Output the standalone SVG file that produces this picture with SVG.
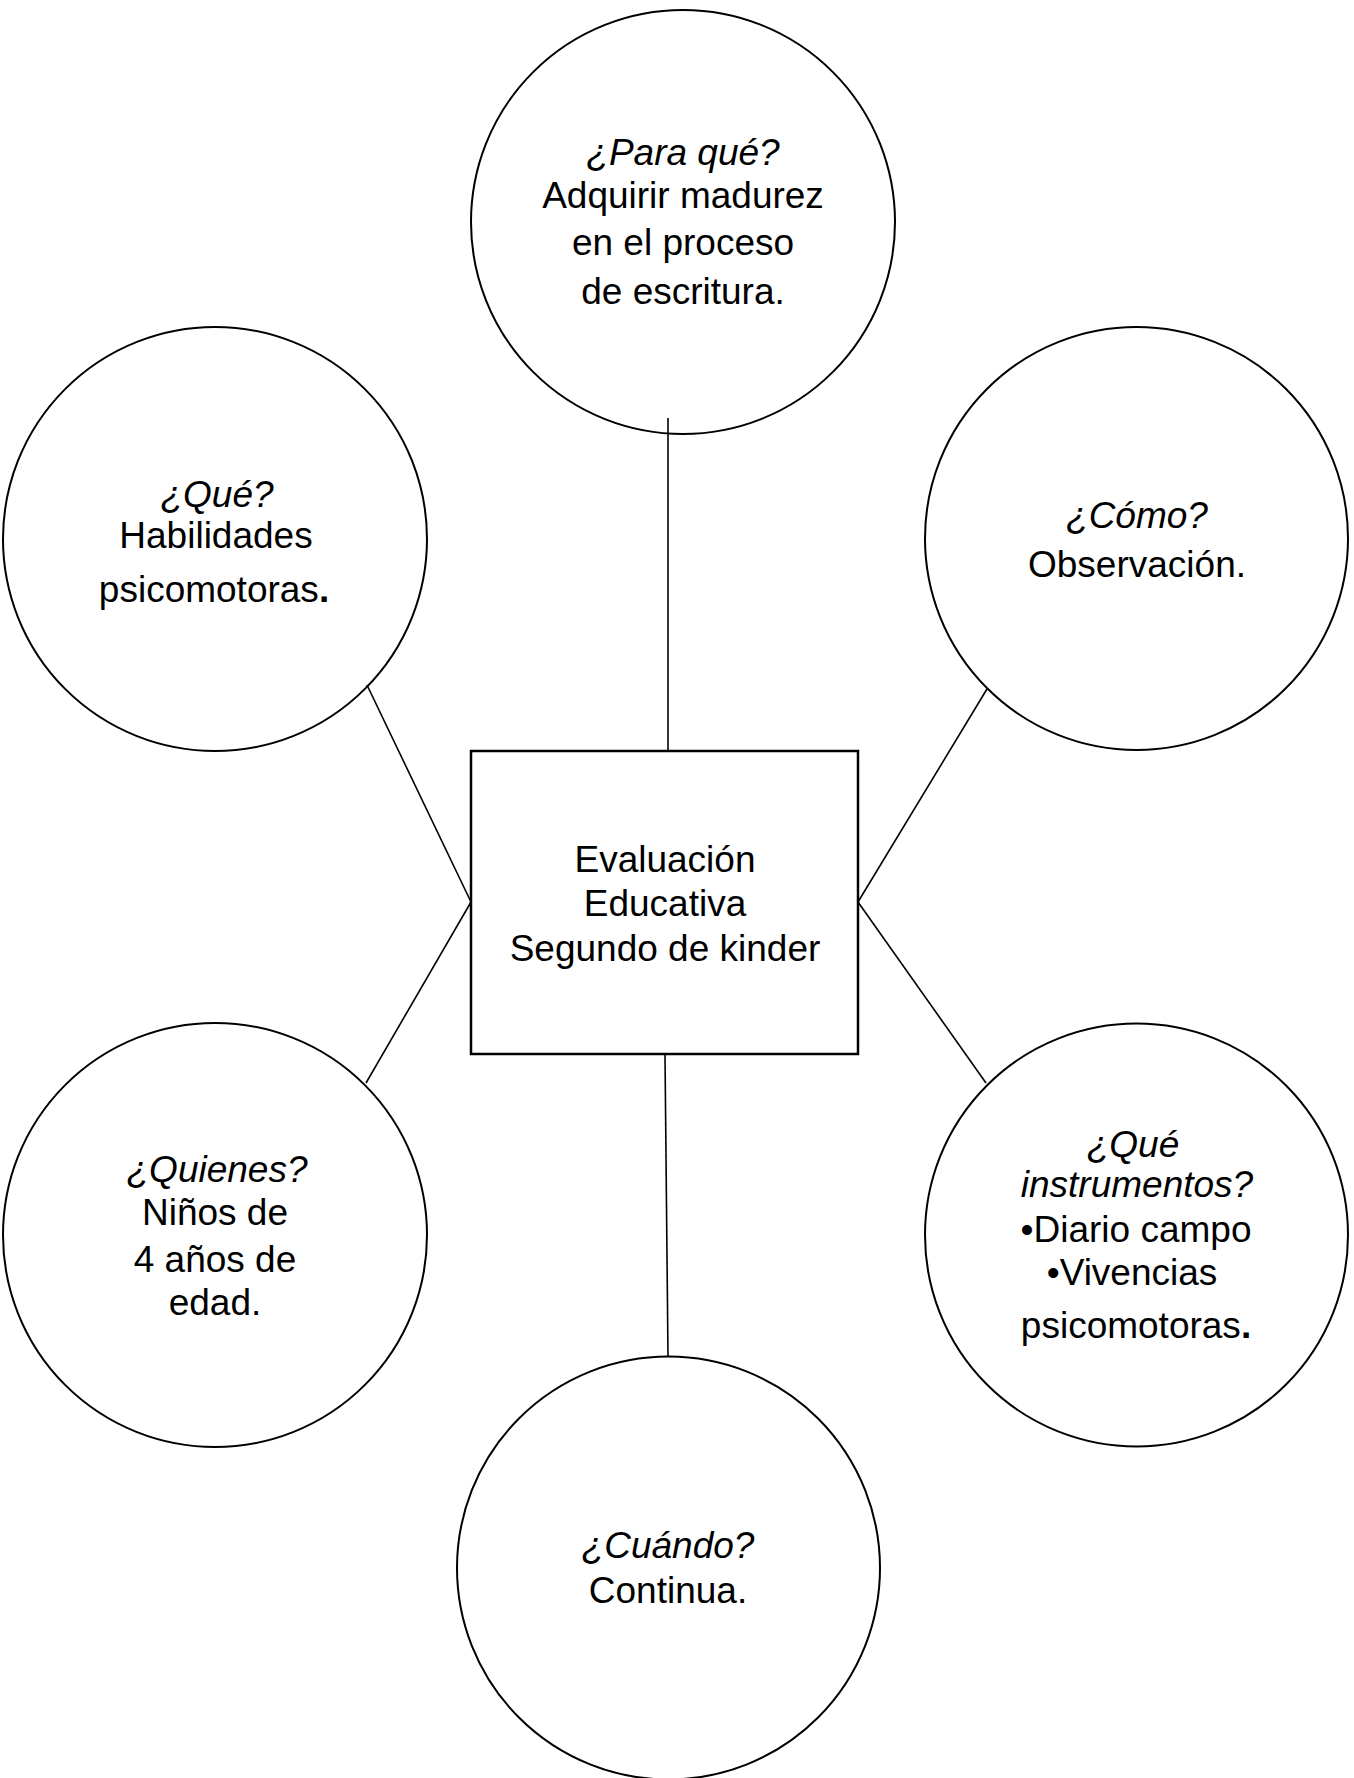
<svg xmlns="http://www.w3.org/2000/svg" width="1354" height="1778" viewBox="0 0 1354 1778">
<style>
.n{fill:#fff;stroke:#000;stroke-width:2}
.b{fill:#fff;stroke:#000;stroke-width:2.5}
.c line{stroke:#000;stroke-width:1.6}
text{font-family:"Liberation Sans",Arial,sans-serif;font-size:37px;fill:#000;text-anchor:middle}
.i{font-style:italic}
.p{font-weight:bold}
</style>
<rect width="1354" height="1778" fill="#fff"/>
<g id="center">
<rect class="b" x="471" y="751" width="387" height="303"/>
<text x="665" y="872">Evaluación</text>
<text x="665" y="916">Educativa</text>
<text x="665" y="961">Segundo de kinder</text>
</g>
<g id="para-que">
<circle class="n" cx="683" cy="222" r="212"/>
<text x="683" y="165" class="i">¿Para qué?</text>
<text x="683" y="208">Adquirir madurez</text>
<text x="683" y="255">en el proceso</text>
<text x="683" y="304">de escritura.</text>
</g>
<g id="que">
<circle class="n" cx="215" cy="539" r="212"/>
<text x="217" y="507" class="i">¿Qué?</text>
<text x="216" y="548">Habilidades</text>
<text x="214" y="602">psicomotoras<tspan class="p">.</tspan></text>
</g>
<g id="como">
<circle class="n" cx="1136.5" cy="538.5" r="211.5"/>
<text x="1137" y="528" class="i">¿Cómo?</text>
<text x="1137" y="577">Observación.</text>
</g>
<g id="quienes">
<circle class="n" cx="215" cy="1235" r="212"/>
<text x="217" y="1182" class="i">¿Quienes?</text>
<text x="215" y="1225">Niños de</text>
<text x="215" y="1272">4 años de</text>
<text x="215" y="1315">edad.</text>
</g>
<g id="instrumentos">
<circle class="n" cx="1136.5" cy="1235" r="211.5"/>
<text x="1133" y="1157" class="i">¿Qué</text>
<text x="1137" y="1197" class="i">instrumentos?</text>
<text x="1136" y="1242">•Diario campo</text>
<text x="1132" y="1285">•Vivencias</text>
<text x="1136" y="1338">psicomotoras<tspan class="p">.</tspan></text>
</g>
<g id="cuando">
<circle class="n" cx="668.5" cy="1568" r="211.5"/>
<text x="668" y="1558" class="i">¿Cuándo?</text>
<text x="668" y="1603">Continua.</text>
</g>
<g id="connectors" class="c">
<line x1="668" y1="418" x2="668" y2="751"/>
<line x1="665" y1="1055" x2="668" y2="1356"/>
<line x1="367" y1="685" x2="471" y2="902"/>
<line x1="471" y1="902" x2="366" y2="1083"/>
<line x1="987" y1="689" x2="858" y2="902"/>
<line x1="858" y1="902" x2="986" y2="1083"/>
</g>
</svg>
